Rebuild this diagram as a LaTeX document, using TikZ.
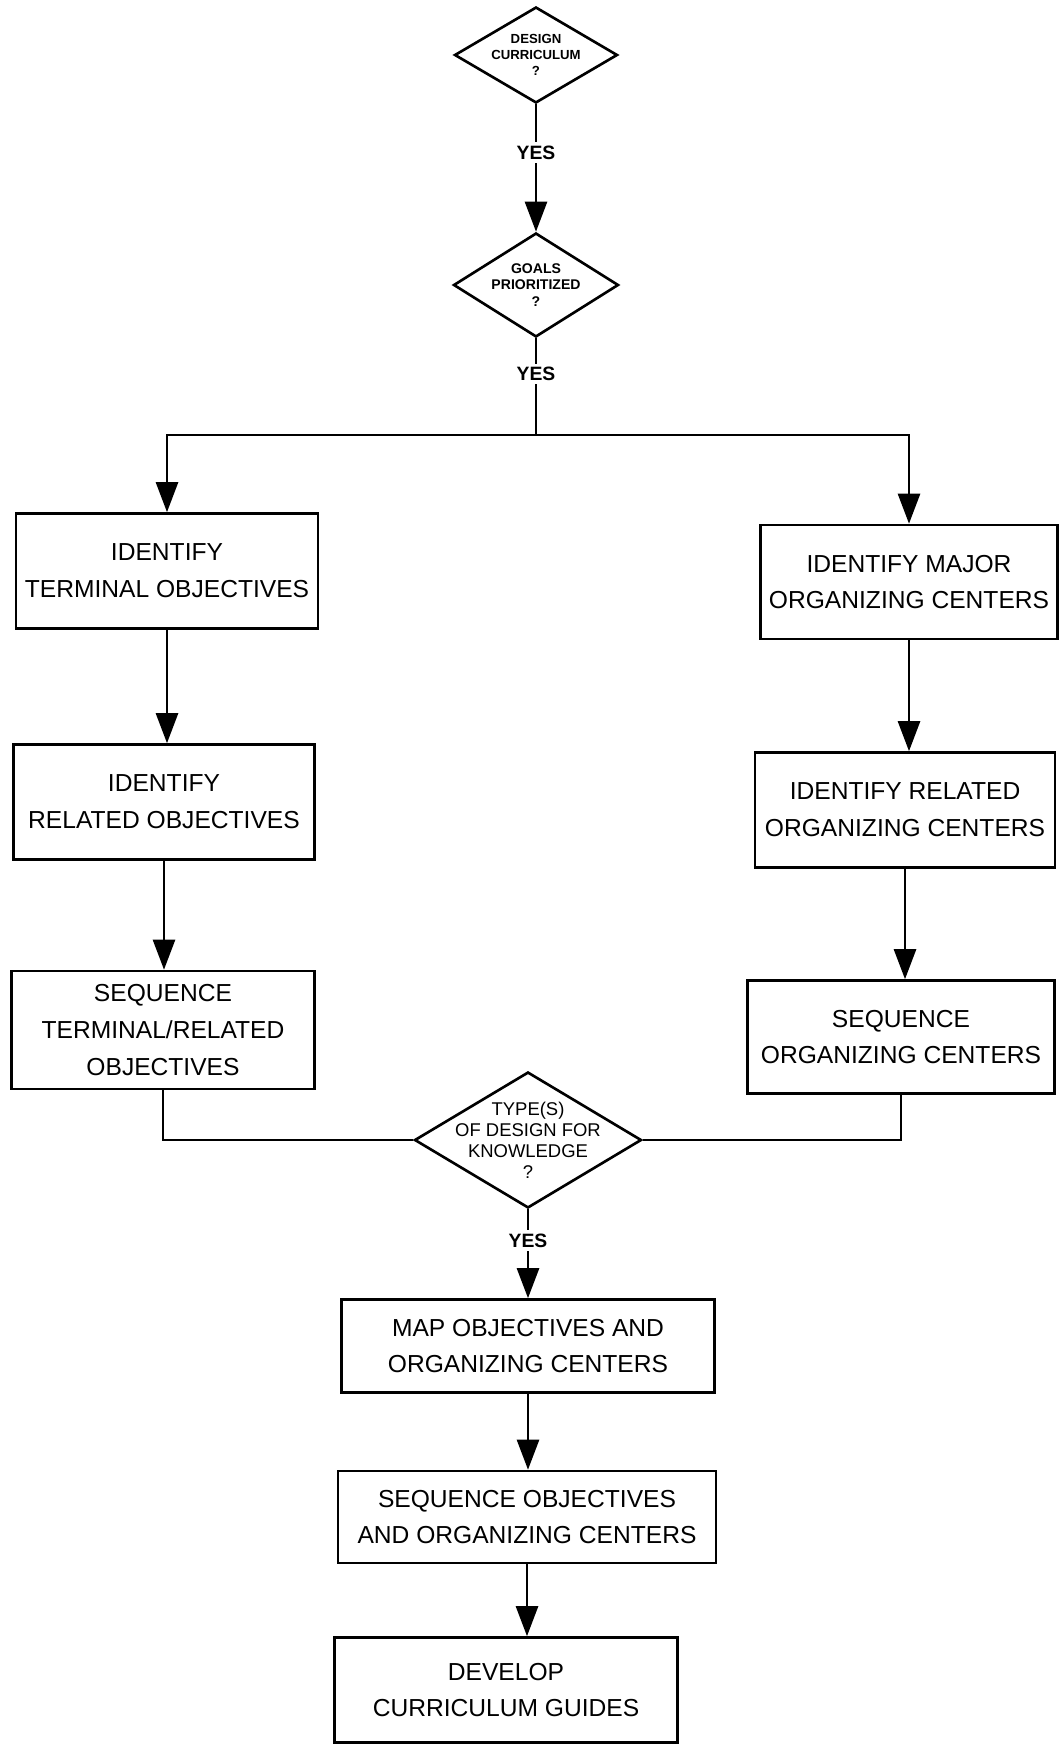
\documentclass[tikz,border=0pt]{standalone}
\usepackage{fontspec}
\setmainfont{Liberation Sans}
\usepackage{tikz}
\usetikzlibrary{positioning}
\usetikzlibrary{calc}
\usetikzlibrary{shapes.geometric}
\usetikzlibrary{arrows.meta}
\tikzset{box/.style={draw, line width=1.5pt, rectangle, inner sep=0pt, align=center, font=\fontsize{14}{21}\selectfont}}
\tikzset{decision/.style={draw, line width=1.5pt, diamond, inner sep=0pt}}
\tikzset{dtext/.style={align=center, inner sep=0pt}}
\tikzset{yes/.style={fill=white, inner sep=2pt, font=\bfseries\fontsize{11}{12}\selectfont}}
\tikzset{arr/.style={line width=1.5pt, -{Triangle[length=0.6cm, width=0.44cm]}}}
\tikzset{flow/.style={line width=1.5pt}}

\begin{document}
\begin{tikzpicture}[x=0.02cm, y=-0.02cm]
\useasboundingbox (0,0) rectangle (1064,1750);
\node[decision, minimum width=3.26cm, minimum height=1.92cm, label={[dtext, font=\bfseries\fontsize{7.5}{9}\selectfont]center:DESIGN\\CURRICULUM\\?}] (q1) at (536,55) {};
\node[decision, minimum width=3.3cm, minimum height=2.08cm, label={[dtext, font=\bfseries\fontsize{8}{9.5}\selectfont]center:GOALS\\PRIORITIZED\\?}] (q2) at (536,285) {};
\coordinate (split) at (536,435);
%
\node[box, minimum width=6.04cm, minimum height=2.3cm] (l1) at (167,571) {IDENTIFY\\TERMINAL OBJECTIVES};
\node[box, minimum width=6.02cm, minimum height=2.3cm] (l2) at (164,802) {IDENTIFY\\RELATED OBJECTIVES};
\node[box, minimum width=6.06cm, minimum height=2.36cm] (l3) at (163,1030) {SEQUENCE\\TERMINAL/RELATED\\OBJECTIVES};
%
\node[box, minimum width=5.94cm, minimum height=2.28cm] (r1) at (909,582) {IDENTIFY MAJOR\\ORGANIZING CENTERS};
\node[box, minimum width=6cm, minimum height=2.3cm] (r2) at (905,810) {IDENTIFY RELATED\\ORGANIZING CENTERS};
\node[box, minimum width=6.14cm, minimum height=2.26cm] (r3) at (901,1037) {SEQUENCE\\ORGANIZING CENTERS};
%
\node[decision, minimum width=4.54cm, minimum height=2.72cm, label={[dtext, font=\fontsize{10.5}{12}\selectfont]center:TYPE(S)\\OF DESIGN FOR\\KNOWLEDGE\\?}] (q3) at (528,1140) {};
%
\node[box, minimum width=7.46cm, minimum height=1.86cm] (b4) at (528,1346) {MAP OBJECTIVES AND\\ORGANIZING CENTERS};
\node[box, minimum width=7.56cm, minimum height=1.84cm] (b5) at (527,1517) {SEQUENCE OBJECTIVES\\AND ORGANIZING CENTERS};
\node[box, minimum width=6.86cm, minimum height=2.1cm] (b6) at (506,1690) {DEVELOP\\CURRICULUM GUIDES};

\draw[arr] (q1.south) -- node[yes, pos=0.38] {YES} (q2.north);
\draw[flow] (q2.south) -- node[yes, pos=0.37] {YES} (split);
\draw[arr] (split) -| (l1.north);
\draw[arr] (split) -| (r1.north);
\draw[arr] (l1.south) -- (l1.south |- l2.north);
\draw[arr] (l2.south) -- (l2.south |- l3.north);
\draw[arr] (r1.south) -- (r1.south |- r2.north);
\draw[arr] (r2.south) -- (r2.south |- r3.north);
\draw[flow] (l3.south) |- (q3.west);
\draw[flow] (r3.south) |- (q3.east);
\draw[arr] (q3.south) -- node[yes, pos=0.35] {YES} (q3.south |- b4.north);
\draw[arr] (b4.south) -- (b4.south |- b5.north);
\draw[arr] (b5.south) -- (b5.south |- b6.north);
\end{tikzpicture}
\end{document}
